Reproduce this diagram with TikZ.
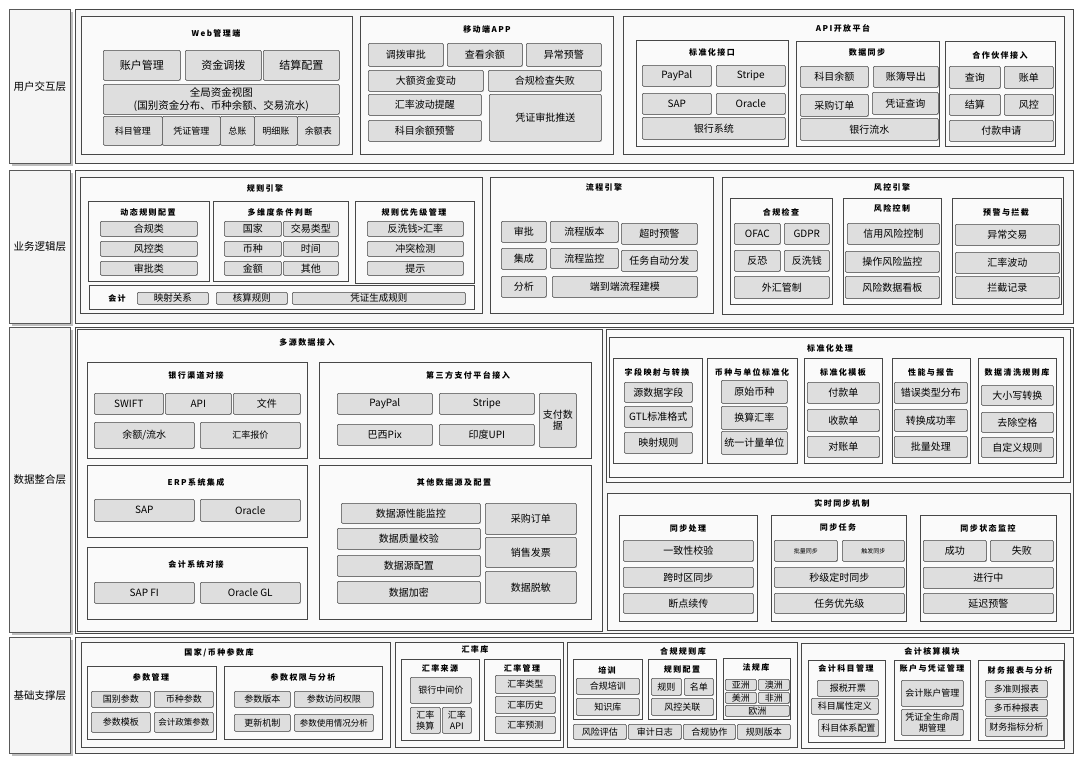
\documentclass[tikz,border=0pt]{standalone}
\usepackage{fontspec}
\setmainfont{Noto Sans CJK SC}
\newfontfamily\ttlfont[LetterSpace=18]{Noto Sans CJK SC}
\usetikzlibrary{shadows}
\newcounter{bxc}
\newcommand\LB[6][]{\stepcounter{bxc}%
 \pgfmathsetmacro\bw{#4-#2}\pgfmathsetmacro\bh{#5-#3}%
 \node[leaf,minimum width=\bw pt,minimum height=\bh pt,anchor=north west,#1] (b\arabic{bxc}) at (#2,#3) {#6};}
\newcommand\FR[5][]{\stepcounter{bxc}%
 \pgfmathsetmacro\bw{#4-#2}\pgfmathsetmacro\bh{#5-#3}%
 \node[frm,minimum width=\bw pt,minimum height=\bh pt,anchor=north west,#1] (f\arabic{bxc}) at (#2,#3) {};}
\newcommand\TT[4][]{\stepcounter{bxc}%
 \node[ttl,#1] (t\arabic{bxc}) at (#2,#3) {#4};}
\begin{document}
\begin{tikzpicture}[x=1pt,y=-1pt,
 leaf/.style={draw=black!72, fill=black!13, rounded corners=1.2pt, line width=0.55pt, inner sep=0pt, align=center,
   font=\fontsize{10}{11.5}\selectfont, drop shadow={shadow xshift=0.7pt,shadow yshift=-0.7pt,fill=black!40}},
 frm/.style={draw=black!72, fill=black!2, line width=0.6pt, inner sep=0pt},
 lay/.style={draw=black!65, fill=black!4, line width=0.6pt, inner sep=0pt, drop shadow={}, rounded corners=0pt,
   font=\fontsize{10.5}{12}\selectfont},
 ttl/.style={font=\ttlfont\bfseries\fontsize{8}{9}\selectfont, inner sep=0pt},
 fs/.style={font=\fontsize{#1}{1.2\dimexpr#1pt\relax}\selectfont}]
\fill[white] (0,0) rectangle (1080,763);
\useasboundingbox (0,0) rectangle (1080,763);
% layer labels
\LB[lay]{9}{9}{70}{163}{用户交互层}
\LB[lay]{9}{170}{70}{323}{业务逻辑层}
\LB[lay]{9}{327}{70}{632}{数据整合层}
\LB[lay]{9}{637}{70}{753}{基础支撑层}
% layer frames
\FR[fill=black!3]{75}{9}{1073}{163}
\FR[fill=black!3]{75}{170}{1073}{323}
\FR[fill=black!3]{75}{327}{1073}{633}
\FR[fill=black!3]{75}{637}{1073}{753}
% ===== Layer 1
\FR{81}{16}{352}{154}\TT{216}{33}{Web管理端}
\LB[fs=11]{103}{50}{180}{80}{账户管理}
\LB[fs=11]{185}{50}{261}{80}{资金调拨}
\LB[fs=11]{263}{50}{339}{80}{结算配置}
\LB[fs=10.5]{103}{84}{339}{114}{全局资金视图\\(国别资金分布、币种余额、交易流水)}
\LB[fs=9]{103}{116}{162}{145}{科目管理}
\LB[fs=9]{162}{116}{220}{145}{凭证管理}
\LB[fs=9]{220}{116}{254}{145}{总账}
\LB[fs=9]{254}{116}{297}{145}{明细账}
\LB[fs=9]{297}{116}{339}{145}{余额表}
\FR{360}{16}{613}{154}\TT{487}{29}{移动端APP}
\LB{368}{43}{443}{66}{调拨审批}
\LB{447}{43}{522}{66}{查看余额}
\LB{526}{43}{601}{66}{异常预警}
\LB{368}{70}{483}{91}{大额资金变动}
\LB{488}{70}{601}{91}{合规检查失败}
\LB{368}{94}{481}{115}{汇率波动提醒}
\LB{489}{94}{601}{141}{凭证审批推送}
\LB{368}{120}{481}{141}{科目余额预警}
\FR{623}{16}{1064}{154}\TT{843}{28}{API开放平台}
\FR{636}{40}{788}{146}\TT{712}{52}{标准化接口}
\LB{642}{65}{711}{86}{PayPal}
\LB{716}{65}{785}{86}{Stripe}
\LB{642}{93}{711}{114}{SAP}
\LB{716}{93}{785}{114}{Oracle}
\LB{642}{117}{785}{139}{银行系统}
\FR{796}{41}{939}{146}\TT{867}{52}{数据同步}
\LB{800}{66}{868}{87}{科目余额}
\LB{873}{66}{938}{87}{账簿导出}
\LB{800}{94}{868}{116}{采购订单}
\LB{872}{92}{938}{114}{凭证查询}
\LB{800}{118}{938}{140}{银行流水}
\FR{945}{41}{1055}{146}\TT{1000}{55}{合作伙伴接入}
\LB{949}{66}{1000}{88}{查询}
\LB{1004}{66}{1053}{88}{账单}
\LB{949}{94}{1000}{115}{结算}
\LB{1004}{94}{1053}{115}{风控}
\LB{949}{120}{1053}{141}{付款申请}
% ===== Layer 2
\FR{80}{177}{482}{313}\TT{265}{188}{规则引擎}
\FR{88}{201}{209}{281}\TT{148}{212}{动态规则配置}
\LB{100}{221}{197}{236}{合规类}
\LB{100}{241}{197}{256}{风控类}
\LB{100}{261}{197}{275}{审批类}
\FR{213}{201}{348}{281}\TT{280}{212}{多维度条件判断}
\LB{224}{221}{281}{236}{国家}
\LB{283}{221}{338}{236}{交易类型}
\LB{224}{241}{281}{256}{币种}
\LB{283}{241}{338}{256}{时间}
\LB{224}{261}{281}{275}{金额}
\LB{283}{261}{338}{275}{其他}
\FR{355}{201}{474}{283}\TT{414}{212}{规则优先级管理}
\LB{367}{221}{463}{236}{反洗钱>汇率}
\LB{367}{241}{463}{256}{冲突检测}
\LB{367}{261}{463}{275}{提示}
\FR{89}{285}{474}{309}\TT{117}{298}{会计}
\LB[fs=9.5]{137}{292}{208}{304}{映射关系}
\LB[fs=9.5]{216}{292}{287}{304}{核算规则}
\LB[fs=9.5]{292}{292}{465}{304}{凭证生成规则}
\FR{490}{177}{713}{313}\TT{604}{187}{流程引擎}
\LB{501}{221}{546}{242}{审批}
\LB{550}{221}{618}{242}{流程版本}
\LB{621}{223}{697}{244}{超时预警}
\LB{501}{248}{546}{269}{集成}
\LB{550}{248}{618}{268}{流程监控}
\LB{621}{250}{697}{271}{任务自动分发}
\LB{501}{276}{546}{297}{分析}
\LB{552}{276}{697}{297}{端到端流程建模}
\FR{722}{177}{1063}{314}\TT{892}{187}{风控引擎}
\FR{730}{198}{832}{304}\TT{781}{212}{合规检查}
\LB{734}{223}{780}{244}{OFAC}
\LB{784}{223}{829}{244}{GDPR}
\LB{734}{250}{780}{271}{反恐}
\LB{784}{250}{829}{271}{反洗钱}
\LB{734}{276}{829}{298}{外汇管制}
\FR{843}{198}{941}{304}\TT{892}{208}{风险控制}
\LB{847}{223}{939}{244}{信用风险控制}
\LB{845}{251}{939}{272}{操作风险监控}
\LB{845}{276}{939}{298}{风险数据看板}
\FR{952}{198}{1061}{304}\TT{1006}{212}{预警与拦截}
\LB{955}{224}{1059}{245}{异常交易}
\LB{955}{252}{1059}{273}{汇率波动}
\LB{955}{276}{1059}{298}{拦截记录}
% ===== Layer 3
\FR{77}{329}{602}{631}\TT{307}{342}{多源数据接入}
\FR{87}{362}{307}{458}\TT{196}{375}{银行渠道对接}
\LB{94}{393}{163}{414}{SWIFT}
\LB{165}{393}{231}{414}{API}
\LB{233}{393}{300}{414}{文件}
\LB{94}{422}{194}{448}{余额/流水}
\LB[fs=9]{200}{422}{300}{448}{汇率报价}
\FR{319}{362}{591}{458}\TT{468}{375}{第三方支付平台接入}
\LB{337}{393}{432}{414}{PayPal}
\LB{439}{393}{534}{414}{Stripe}
\LB{337}{424}{432}{445}{巴西Pix}
\LB{439}{424}{534}{445}{印度UPI}
\LB{539}{393}{576}{447}{支付数\\据}
\FR{87}{465}{307}{537}\TT{196}{482}{ERP系统集成}
\LB{94}{499}{194}{521}{SAP}
\LB{200}{499}{300}{521}{Oracle}
\FR{87}{547}{307}{619}\TT{196}{564}{会计系统对接}
\LB{94}{582}{194}{603}{SAP FI}
\LB{200}{582}{300}{603}{Oracle GL}
\FR{319}{465}{591}{619}\TT{454}{482}{其他数据源及配置}
\LB{341}{503}{480}{523}{数据源性能监控}
\LB{337}{528}{480}{549}{数据质量校验}
\LB{337}{555}{480}{576}{数据源配置}
\LB{337}{581}{480}{603}{数据加密}
\LB{485}{503}{576}{534}{采购订单}
\LB{485}{537}{576}{567}{销售发票}
\LB{485}{571}{576}{603}{数据脱敏}
\FR{606}{329}{1070}{482}
\FR{609}{337}{1063}{477}\TT{830}{348}{标准化处理}
\FR{613}{358}{702}{463}\TT{657}{372}{字段映射与转换}
\LB{624}{382}{692}{402}{源数据字段}
\LB{624}{406}{692}{427}{GTL标准格式}
\LB{624}{432}{692}{453}{映射规则}
\FR{707}{358}{797}{463}\TT{752}{372}{币种与单位标准化}
\LB{721}{380}{787}{403}{原始币种}
\LB{721}{406}{787}{429}{换算汇率}
\LB{721}{431}{787}{454}{统一计量单位}
\FR{804}{358}{882}{463}\TT{843}{372}{标准化模板}
\LB{807}{382}{879}{403}{付款单}
\LB{807}{409}{879}{431}{收款单}
\LB{807}{436}{879}{457}{对账单}
\FR{892}{358}{970}{463}\TT{931}{372}{性能与报告}
\LB{894}{382}{967}{403}{错误类型分布}
\LB{894}{409}{967}{431}{转换成功率}
\LB{894}{436}{967}{457}{批量处理}
\FR{978}{358}{1056}{463}\TT{1017}{372}{数据清洗规则库}
\LB{981}{385}{1053}{405}{大小写转换}
\LB{981}{412}{1053}{432}{去除空格}
\LB{981}{437}{1053}{457}{自定义规则}
\FR{607}{493}{1070}{630}\TT{842}{503}{实时同步机制}
\FR{619}{515}{757}{621}\TT{688}{528}{同步处理}
\LB{623}{540}{753}{561}{一致性校验}
\LB{623}{567}{753}{587}{跨时区同步}
\LB{623}{593}{753}{613}{断点续传}
\FR{771}{515}{906}{621}\TT{838}{527}{同步任务}
\LB[fs=6]{774}{540}{837}{561}{批量同步}
\LB[fs=6]{842}{540}{904}{561}{触发同步}
\LB{774}{567}{904}{587}{秒级定时同步}
\LB{774}{593}{904}{613}{任务优先级}
\FR{920}{515}{1056}{621}\TT{988}{528}{同步状态监控}
\LB{923}{540}{986}{561}{成功}
\LB{990}{540}{1053}{561}{失败}
\LB{923}{567}{1053}{588}{进行中}
\LB{923}{593}{1053}{613}{延迟预警}
% ===== Layer 4
\FR{81}{642}{390}{747}\TT{219}{653}{国家/币种参数库}
\FR{87}{666}{216}{739}\TT{151}{677}{参数管理}
\LB[fs=9]{91}{691}{150}{707}{国别参数}
\LB[fs=9]{154}{691}{213}{707}{币种参数}
\LB[fs=9]{91}{712}{150}{732}{参数模板}
\LB[fs=8.5]{154}{712}{213}{732}{会计政策参数}
\FR{224}{666}{382}{739}\TT{303}{677}{参数权限与分析}
\LB[fs=9]{234}{691}{290}{707}{参数版本}
\LB[fs=9]{294}{691}{373}{707}{参数访问权限}
\LB[fs=9]{234}{714}{290}{731}{更新机制}
\LB[fs=8.5]{294}{714}{373}{731}{参数使用情况分析}
\FR{395}{642}{563}{747}\TT{475}{649}{汇率库}
\FR{401}{659}{479}{740}\TT{440}{668}{汇率来源}
\LB[fs=9]{410}{677}{471}{703}{银行中间价}
\LB[fs=9]{410}{707}{440}{733}{汇率\\换算}
\LB[fs=9]{442}{707}{471}{733}{汇率\\API}
\FR{484}{659}{560}{740}\TT{522}{668}{汇率管理}
\LB[fs=9]{495}{675}{555}{693}{汇率类型}
\LB[fs=9]{495}{696}{555}{713}{汇率历史}
\LB[fs=9]{495}{716}{555}{733}{汇率预测}
\FR{567}{642}{797}{747}\TT{683}{651}{合规规则库}
\FR{573}{659}{642}{719}\TT{607}{670}{培训}
\LB[fs=9]{576}{678}{639}{694}{合规培训}
\LB[fs=9]{576}{698}{639}{715}{知识库}
\FR{648}{659}{716}{719}\TT{682}{669}{规则配置}
\LB[fs=9]{651}{678}{681}{695}{规则}
\LB[fs=9]{684}{678}{713}{695}{名单}
\LB[fs=9]{651}{698}{713}{715}{风控关联}
\FR{723}{658}{790}{719}\TT{756}{667}{法规库}
\LB[fs=9]{725}{679}{756}{690}{亚洲}
\LB[fs=9]{758}{679}{789}{690}{澳洲}
\LB[fs=9]{725}{692}{756}{703}{美洲}
\LB[fs=9]{758}{692}{789}{703}{非洲}
\LB[fs=9]{725}{705}{789}{716}{欧洲}
\LB[fs=9]{573}{724}{626}{739}{风险评估}
\LB[fs=9]{628}{724}{681}{739}{审计日志}
\LB[fs=9]{683}{724}{735}{739}{合规协作}
\LB[fs=9]{737}{724}{790}{739}{规则版本}
\FR{801}{643}{1064}{748}\TT{932}{651}{会计核算模块}
\FR{808}{660}{885}{742}\TT{846}{668}{会计科目管理}
\LB[fs=9]{817}{680}{878}{696}{报税开票}
\LB[fs=9]{811}{698}{878}{714}{科目属性定义}
\LB[fs=9]{818}{719}{878}{736}{科目体系配置}
\FR{894}{660}{970}{740}\TT{932}{668}{账户与凭证管理}
\LB[fs=9]{901}{680}{963}{706}{会计账户管理}
\LB[fs=9]{901}{709}{963}{735}{凭证全生命周\\期管理}
\FR{978}{660}{1063}{740}\TT{1020}{670}{财务报表与分析}
\LB[fs=9]{985}{680}{1047}{697}{多准则报表}
\LB[fs=9]{985}{699}{1047}{716}{多币种报表}
\LB[fs=9]{985}{718}{1047}{736}{财务指标分析}
\end{tikzpicture}
\end{document}
